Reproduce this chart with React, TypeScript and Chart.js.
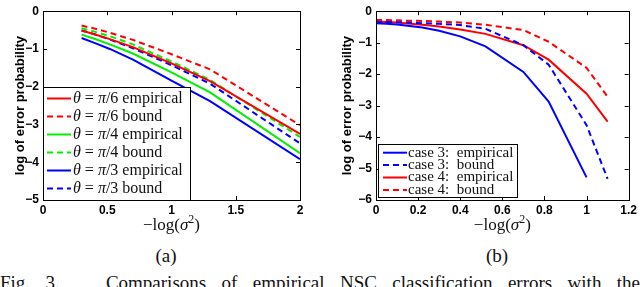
import React, { useEffect, useRef } from "react";
import { Chart, registerables } from "chart.js";
Chart.register(...registerables);

// ---------- data: panel (a) ----------
const xA = [0.3, 0.4, 0.52, 0.7, 1.0, 1.3, 2.0];
const a6Emp = [-0.51, -0.61, -0.74, -0.95, -1.38, -1.85, -3.25];
const a6Bnd = [-0.38, -0.46, -0.57, -0.76, -1.14, -1.54, -3.02];
const a4Emp = [-0.62, -0.73, -0.88, -1.12, -1.62, -2.15, -3.76];
const a4Bnd = [-0.45, -0.54, -0.66, -0.88, -1.33, -1.82, -3.33];
const a3Emp = [-0.71, -0.84, -1.0, -1.28, -1.84, -2.38, -3.92];
const a3Bnd = [-0.51, -0.61, -0.75, -0.98, -1.43, -1.92, -3.5];
const labelsA = [
  "θ = π/6 empirical",
  "θ = π/6 bound",
  "θ = π/4 empirical",
  "θ = π/4 bound",
  "θ = π/3 empirical",
  "θ = π/3 bound",
];
const ticksAX = [0, 0.5, 1, 1.5, 2];
const ticksAY = [0, -1, -2, -3, -4, -5];

// ---------- data: panel (b) ----------
const xB = [0, 0.05, 0.1, 0.15, 0.22, 0.3, 0.4, 0.52, 0.7, 0.82, 1.0, 1.1];
const b3Emp = [-0.38, -0.4, -0.42, -0.46, -0.52, -0.62, -0.8, -1.12, -1.93, -2.87, -5.28];
const b3Bnd = [-0.34, -0.34, -0.35, -0.36, -0.38, -0.4, -0.44, -0.56, -1.08, -1.7, -3.62, -5.33];
const b4Emp = [-0.33, -0.34, -0.36, -0.39, -0.43, -0.49, -0.58, -0.72, -1.08, -1.54, -2.62, -3.51];
const b4Bnd = [-0.28, -0.28, -0.29, -0.3, -0.31, -0.33, -0.36, -0.43, -0.6, -0.97, -1.8, -2.72];
const labelsB = ["case 3:  empirical", "case 3:  bound", "case 4:  empirical", "case 4:  bound"];
const ticksBX = [0, 0.2, 0.4, 0.6, 0.8, 1, 1.2];
const ticksBY = [0, -1, -2, -3, -4, -5, -6];

const RED = "#ff0000";
const GREEN = "#00f000";
const BLUE = "#0000ff";
const DASH = [6, 4];
const SERIF = '"Liberation Serif", "Times New Roman", serif';
const SANS = '"Liberation Sans", Arial, sans-serif';

const pts = (xs: number[], ys: number[]) => ys.map((y, i) => ({ x: xs[i], y }));
const fmt = (v: number) => {
  const r = Math.round(v * 10) / 10;
  return (r < 0 ? "\u2212" : "") + String(Math.abs(r));
};

function ds(label: string, xs: number[], ys: number[], color: string, dashed: boolean) {
  return {
    label,
    data: pts(xs, ys),
    borderColor: color,
    backgroundColor: color,
    borderWidth: 2,
    borderDash: dashed ? DASH : [],
    pointRadius: 0,
    tension: 0,
    fill: false,
  };
}

function drawRich(ctx: CanvasRenderingContext2D, text: string, x: number, y: number, size: number) {
  let cx = x;
  ctx.textBaseline = "middle";
  ctx.textAlign = "left";
  for (const ch of Array.from(text)) {
    const it = ch === "θ" || ch === "π" || ch === "σ";
    ctx.font = `${it ? "italic " : ""}${size}px ${SERIF}`;
    ctx.fillText(ch, cx, y);
    cx += ctx.measureText(ch).width;
  }
}

type Leg = { x0: number; y0: number; x1: number; y1: number; rowY: number; rowH: number; lx0: number; lx1: number; tx: number; size: number };

function framePlugin(xTicks: number[], yTicks: number[], leg: Leg, xTitleY: number) {
  return {
    id: "frame",
    afterDraw(chart: any) {
      const ctx = chart.ctx as CanvasRenderingContext2D;
      const { left, right, top, bottom } = chart.chartArea;
      const xs = chart.scales.x;
      const ys = chart.scales.y;
      ctx.save();
      ctx.strokeStyle = "#000";
      ctx.lineWidth = 1;
      ctx.setLineDash([]);
      ctx.strokeRect(Math.round(left) + 0.5, Math.round(top) + 0.5, Math.round(right - left), Math.round(bottom - top));
      ctx.beginPath();
      const tl = 4;
      for (const v of xTicks) {
        const p = Math.round(xs.getPixelForValue(v)) + 0.5;
        ctx.moveTo(p, bottom);
        ctx.lineTo(p, bottom - tl);
        ctx.moveTo(p, top);
        ctx.lineTo(p, top + tl);
      }
      for (const v of yTicks) {
        const p = Math.round(ys.getPixelForValue(v)) + 0.5;
        ctx.moveTo(left, p);
        ctx.lineTo(left + tl, p);
        ctx.moveTo(right, p);
        ctx.lineTo(right - tl, p);
      }
      ctx.stroke();

      // legend
      ctx.fillStyle = "#fff";
      ctx.fillRect(leg.x0, leg.y0, leg.x1 - leg.x0, leg.y1 - leg.y0);
      ctx.strokeStyle = "#000";
      ctx.lineWidth = 1;
      ctx.strokeRect(leg.x0 + 0.5, leg.y0 + 0.5, leg.x1 - leg.x0, leg.y1 - leg.y0);
      chart.data.datasets.forEach((d: any, i: number) => {
        const y = leg.rowY + i * leg.rowH;
        ctx.beginPath();
        ctx.strokeStyle = d.borderColor;
        ctx.lineWidth = 2;
        ctx.setLineDash(d.borderDash || []);
        ctx.moveTo(leg.lx0, y);
        ctx.lineTo(leg.lx1, y);
        ctx.stroke();
        ctx.setLineDash([]);
        ctx.fillStyle = "#111";
        drawRich(ctx, d.label, leg.tx, y, leg.size);
      });

      // x title: −log(σ²)
      const cxm = (left + right) / 2;
      const parts: [string, string, number][] = [
        ["\u2212log(", `17px ${SERIF}`, 0],
        ["σ", `italic 17px ${SERIF}`, 0],
        ["2", `12px ${SERIF}`, -6],
        [")", `17px ${SERIF}`, 0],
      ];
      let w = 0;
      for (const p of parts) {
        ctx.font = p[1];
        w += ctx.measureText(p[0]).width;
      }
      let cx = cxm - w / 2;
      ctx.fillStyle = "#111";
      ctx.textBaseline = "middle";
      ctx.textAlign = "left";
      for (const p of parts) {
        ctx.font = p[1];
        ctx.fillText(p[0], cx, xTitleY + p[2]);
        cx += ctx.measureText(p[0]).width;
      }
      ctx.restore();
    },
  };
}

function makeChart(
  canvas: HTMLCanvasElement,
  datasets: any[],
  xr: [number, number],
  yr: [number, number],
  xTicks: number[],
  yTicks: number[],
  yAxisW: number,
  titlePad: number,
  padRight: number,
  leg: Leg
) {
  const tickFont = { family: SANS, weight: "bold" as const, size: 12 };
  return new Chart(canvas, {
    type: "line",
    data: { datasets },
    options: {
      animation: false,
      responsive: false,
      maintainAspectRatio: false,
      layout: { padding: { top: 5, right: padRight, left: 0, bottom: 0 } },
      plugins: { legend: { display: false }, tooltip: { enabled: false } },
      scales: {
        x: {
          type: "linear",
          min: xr[0],
          max: xr[1],
          afterBuildTicks: (s: any) => {
            s.ticks = xTicks.map((v) => ({ value: v }));
          },
          afterFit: (s: any) => {
            s.height = 40;
          },
          grid: { display: false, drawTicks: false },
          border: { display: false },
          ticks: { font: tickFont, color: "#000", padding: 3, maxRotation: 0, autoSkip: false, callback: (v: any) => fmt(Number(v)) },
        },
        y: {
          type: "linear",
          min: yr[0],
          max: yr[1],
          afterBuildTicks: (s: any) => {
            s.ticks = yTicks.map((v) => ({ value: v }));
          },
          afterFit: (s: any) => {
            s.width = yAxisW;
          },
          grid: { display: false, drawTicks: false },
          border: { display: false },
          ticks: { font: tickFont, color: "#000", padding: 4, autoSkip: false, callback: (v: any) => fmt(Number(v)) },
          title: {
            display: true,
            text: "log of error probability",
            font: { family: SANS, weight: "bold", size: 13 },
            color: "#000",
            padding: { top: titlePad, bottom: 0 },
          },
        },
      },
    },
    plugins: [framePlugin(xTicks, yTicks, leg, 226)],
  } as any);
}

export default function App() {
  const refA = useRef<HTMLCanvasElement>(null);
  const refB = useRef<HTMLCanvasElement>(null);
  useEffect(() => {
    const dsA = [
      ds(labelsA[0], xA, a6Emp, RED, false),
      ds(labelsA[1], xA, a6Bnd, RED, true),
      ds(labelsA[2], xA, a4Emp, GREEN, false),
      ds(labelsA[3], xA, a4Bnd, GREEN, true),
      ds(labelsA[4], xA, a3Emp, BLUE, false),
      ds(labelsA[5], xA, a3Bnd, BLUE, true),
    ];
    const dsB = [
      ds(labelsB[0], xB, b3Emp, BLUE, false),
      ds(labelsB[1], xB, b3Bnd, BLUE, true),
      ds(labelsB[2], xB, b4Emp, RED, false),
      ds(labelsB[3], xB, b4Bnd, RED, true),
    ];
    const cA = makeChart(refA.current!, dsA, [0, 2], [-5, 0], ticksAX, ticksAY, 43, 12.8, 20, {
      x0: 43, y0: 87, x1: 190, y1: 200, rowY: 98.5, rowH: 18, lx0: 47, lx1: 71, tx: 73, size: 16,
    });
    const cB = makeChart(refB.current!, dsB, [0, 1.2], [-6, 0], ticksBX, ticksBY, 56, 19.8, 9, {
      x0: 58, y0: 144, x1: 197, y1: 197, rowY: 152.7, rowH: 12.4, lx0: 63, lx1: 87, tx: 88, size: 15,
    });
    return () => {
      cA.destroy();
      cB.destroy();
    };
  }, []);

  const cap: React.CSSProperties = {
    position: "absolute",
    top: 244,
    fontFamily: SERIF,
    fontSize: 19,
    color: "#111",
    lineHeight: "24px",
    width: 40,
    textAlign: "center",
  };
  return (
    <div style={{ position: "fixed", left: 0, top: 0, width: 640, height: 287, overflow: "hidden", background: "#fff" }}>
      <canvas ref={refA} width={320} height={240} style={{ position: "absolute", left: 0, top: 0, width: 320, height: 240 }} />
      <canvas ref={refB} width={320} height={240} style={{ position: "absolute", left: 320, top: 0, width: 320, height: 240 }} />
      <div style={{ ...cap, left: 146 }}>(a)</div>
      <div style={{ ...cap, left: 477 }}>(b)</div>
      <div
        style={{
          position: "absolute",
          left: 0,
          top: 272,
          width: 640,
          fontFamily: SERIF,
          fontSize: 19,
          lineHeight: "22px",
          color: "#111",
          textAlign: "justify",
          textAlignLast: "justify",
          whiteSpace: "normal",
        }}
      >
        Fig. 3. &nbsp; Comparisons of empirical NSC classification errors with the
      </div>
    </div>
  );
}
